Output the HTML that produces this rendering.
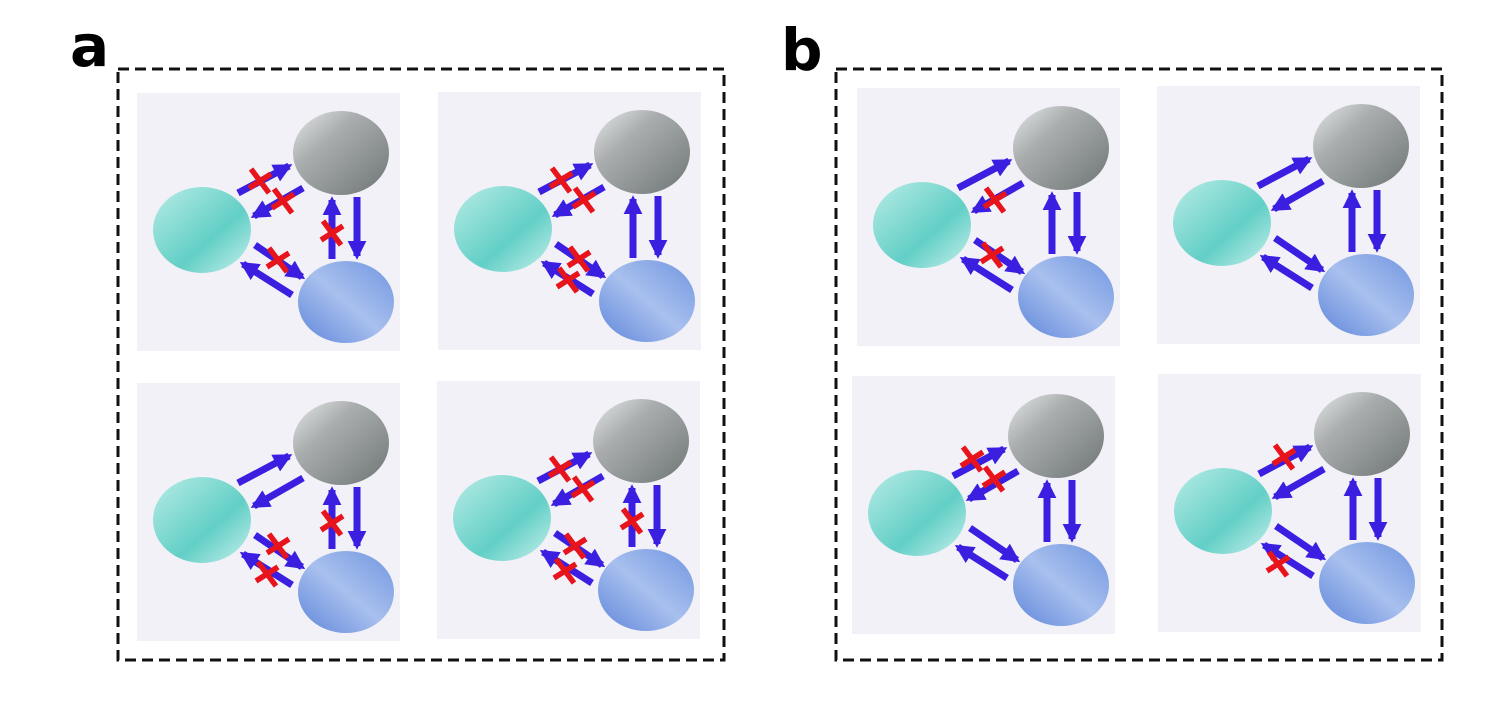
<!DOCTYPE html>
<html><head><meta charset="utf-8"><style>
body{margin:0;background:#fff;}
svg{display:block}
</style></head><body>
<svg width="1508" height="704" viewBox="0 0 1508 704" xmlns="http://www.w3.org/2000/svg">
<defs>
<linearGradient id="gg" x1="0" y1="0" x2="1" y2="1">
<stop offset="0" stop-color="#e6e8e8"/><stop offset="0.35" stop-color="#a9adad"/><stop offset="1" stop-color="#6f7575"/></linearGradient>
<linearGradient id="gc" x1="0" y1="0" x2="1" y2="1">
<stop offset="0" stop-color="#b8ece6"/><stop offset="0.6" stop-color="#62cfc6"/><stop offset="1" stop-color="#c8f0ec"/></linearGradient>
<linearGradient id="gb" x1="1" y1="0" x2="0" y2="1">
<stop offset="0" stop-color="#6f95e0"/><stop offset="0.5" stop-color="#a9c0ee"/><stop offset="1" stop-color="#5e86da"/></linearGradient>
<marker id="ah" viewBox="0 0 10 10" refX="8" refY="5" markerWidth="2.7" markerHeight="2.7" orient="auto">
<path d="M0,0 L10,5 L0,10 z" fill="#3a1fe0"/></marker>
<g id="base">
<rect x="0" y="0" width="263" height="258" fill="#f2f1f8"/>
<ellipse cx="204" cy="60" rx="48" ry="42" fill="url(#gg)"/>
<ellipse cx="65" cy="137" rx="49" ry="43" fill="url(#gc)"/>
<ellipse cx="209" cy="209" rx="48" ry="41" fill="url(#gb)"/>
<g stroke="#3a1fe0" stroke-width="7" marker-end="url(#ah)" fill="none">
<line x1="101" y1="100" x2="152" y2="73"/>
<line x1="166" y1="95" x2="117" y2="123"/>
<line x1="118" y1="152" x2="165" y2="184"/>
<line x1="155" y1="202" x2="106" y2="171"/>
<line x1="195" y1="166" x2="195" y2="107"/>
<line x1="220" y1="104" x2="220" y2="163"/>
</g>
</g>
<g id="xm" stroke="#e8141c" stroke-width="5.5" fill="none"><line x1="-9" y1="-12" x2="9" y2="12"/><line x1="-11" y1="7" x2="11" y2="-7"/></g>
</defs>
<text x="70" y="66" font-family="DejaVu Sans, sans-serif" font-weight="bold" font-size="58" fill="#000">a</text>
<text x="781" y="70" font-family="DejaVu Sans, sans-serif" font-weight="bold" font-size="58" fill="#000">b</text>
<rect x="118" y="69" width="606" height="591" fill="none" stroke="#111" stroke-width="3" stroke-dasharray="11,6"/>
<rect x="836" y="69" width="606" height="591" fill="none" stroke="#111" stroke-width="3" stroke-dasharray="11,6"/>

<g transform="translate(137,93)"><use href="#base"/>
<use href="#xm" x="123" y="88"/><use href="#xm" x="146" y="108"/><use href="#xm" x="141" y="167"/><use href="#xm" x="195" y="140"/></g>
<g transform="translate(438,92)"><use href="#base"/>
<use href="#xm" x="123" y="88"/><use href="#xm" x="146" y="108"/><use href="#xm" x="141" y="167"/><use href="#xm" x="130" y="188"/></g>
<g transform="translate(137,383)"><use href="#base"/>
<use href="#xm" x="141" y="163"/><use href="#xm" x="130" y="191"/><use href="#xm" x="195" y="140"/></g>
<g transform="translate(437,381)"><use href="#base"/>
<use href="#xm" x="123" y="88"/><use href="#xm" x="146" y="108"/><use href="#xm" x="138" y="165"/><use href="#xm" x="128" y="190"/><use href="#xm" x="195" y="140"/></g>
<g transform="translate(857,88)"><use href="#base"/>
<use href="#xm" x="138" y="112"/><use href="#xm" x="135" y="167"/></g>
<g transform="translate(1157,86)"><use href="#base"/></g>
<g transform="translate(852,376)"><use href="#base"/>
<use href="#xm" x="120" y="83"/><use href="#xm" x="142" y="103"/></g>
<g transform="translate(1158,374)"><use href="#base"/>
<use href="#xm" x="126" y="83"/><use href="#xm" x="120" y="190"/></g>
</svg>
</body></html>
